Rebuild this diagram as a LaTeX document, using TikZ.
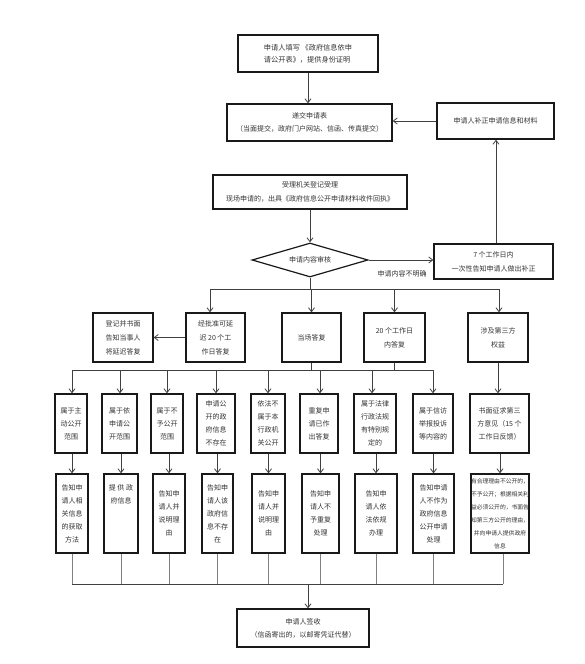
\documentclass[tikz,border=0pt]{standalone}
\usepackage{fontspec}
\setmainfont{Noto Sans CJK SC}
\usetikzlibrary{arrows.meta,shapes.geometric}
\begin{document}
\begin{tikzpicture}[x=1pt,y=-1pt,
  box/.style={draw=black!90, line width=1.2pt, inner sep=1pt, align=center, text=black!80,
    font=\fontsize{7}{13}\selectfont},
  con/.style={draw=black!75, line width=0.8pt},
  thin/.style={draw=black!50, line width=0.7pt},
  arr/.style={con, -{Straight Barb[length=4pt,width=6pt,line width=0.8pt]}}]
\useasboundingbox (0,0) rectangle (584,664);
\fill[white] (0,0) rectangle (584,664);

% top part
\node[box, minimum width=140pt, minimum height=37pt, align=left, font=\fontsize{7.2}{12}\selectfont] (n1) at (308,53.5)
  {申请人填写 《政府信息依申\\请公开表》，提供身份证明};
\node[box, minimum width=165pt, minimum height=37pt] (n2) at (309.5,122.5)
  {递交申请表\\（当面提交，政府门户网站、信函、传真提交）};
\node[box, minimum width=117pt, minimum height=36pt] (nR) at (495.5,121)
  {申请人补正申请信息和材料};
\node[box, minimum width=194pt, minimum height=34pt, font=\fontsize{7}{14}\selectfont] (n3) at (310,192)
  {受理机关登记受理\\现场申请的，出具《政府信息公开申请材料收件回执》};
\node[draw=black!90, line width=1.2pt, diamond, aspect=3.4, minimum width=116pt, minimum height=34pt,
  inner sep=0pt, text=black!80, font=\fontsize{7}{13}\selectfont] (dia) at (310,260) {申请内容审核};
\node[box, minimum width=119pt, minimum height=35pt, font=\fontsize{7}{14}\selectfont] (n7) at (493.5,261.5)
  {7 个工作日内\\一次性告知申请人做出补正};
\node[text=black!80, font=\fontsize{7}{13}\selectfont, inner sep=0pt] (lbl) at (402,274) {申请内容不明确};

% row 2
\node[box, minimum width=60pt, minimum height=49pt, font=\fontsize{7}{14}\selectfont] (dj) at (123,337.5)
  {登记并书面\\告知当事人\\将延迟答复};
\node[box, minimum width=59pt, minimum height=49pt, font=\fontsize{7}{14}\selectfont] (pz) at (215.5,337.5)
  {经批准可延\\迟 20 个工\\作日答复};
\node[box, minimum width=59pt, minimum height=49pt] (dc) at (311.5,337.5) {当场答复};
\node[box, minimum width=61pt, minimum height=49pt, font=\fontsize{7}{14}\selectfont] (tw) at (394.5,337.5)
  {20 个工作日\\内答复};
\node[box, minimum width=60pt, minimum height=49pt, font=\fontsize{7}{14}\selectfont] (sj) at (498,337.5)
  {涉及第三方\\权益};

% row 3
\node[box, minimum width=32pt, minimum height=59pt] (a1) at (71,423.5) {属于主\\动公开\\范围};
\node[box, minimum width=35pt, minimum height=59pt] (a2) at (119.5,423.5) {属于依\\申请公\\开范围};
\node[box, minimum width=32pt, minimum height=59pt] (a3) at (167,423.5) {属于不\\予公开\\范围};
\node[box, minimum width=38pt, minimum height=59pt] (a4) at (216,423.5) {申请公\\开的政\\府信息\\不存在};
\node[box, minimum width=34pt, minimum height=59pt] (a5) at (268,423.5) {依法不\\属于本\\行政机\\关公开};
\node[box, minimum width=38pt, minimum height=59pt] (a6) at (319,423.5) {重复申\\请已作\\出答复};
\node[box, minimum width=42pt, minimum height=59pt] (a7) at (375,423.5) {属于法律\\行政法规\\有特别规\\定的};
\node[box, minimum width=40pt, minimum height=59pt] (a8) at (433,423.5) {属于信访\\举报投诉\\等内容的};
\node[box, minimum width=59pt, minimum height=59pt] (a9) at (499.5,423.5) {书面征求第三\\方意见（15 个\\工作日反馈）};

% row 4
\node[box, minimum width=32pt, minimum height=79pt] (b1) at (72,513.5) {告知申\\请人相\\关信息\\的获取\\方法};
\node[box, minimum width=34pt, minimum height=79pt] (b2) at (121,513.5) {提 供 政\\府信息\\[26pt]};
\node[box, minimum width=32pt, minimum height=79pt] (b3) at (169,513.5) {告知申\\请人并\\说明理\\由};
\node[box, minimum width=31pt, minimum height=79pt] (b4) at (217.5,513.5) {告知申\\请人该\\政府信\\息不存\\在};
\node[box, minimum width=33pt, minimum height=79pt] (b5) at (268.5,513.5) {告知申\\请人并\\说明理\\由};
\node[box, minimum width=37pt, minimum height=79pt] (b6) at (320.5,513.5) {告知申\\请人不\\予重复\\处理};
\node[box, minimum width=42pt, minimum height=79pt] (b7) at (376,513.5) {告知申\\请人依\\法依规\\办理};
\node[box, minimum width=41pt, minimum height=79pt] (b8) at (433.5,513.5) {告知申请\\人不作为\\政府信息\\公开申请\\处理};
\node[box, minimum width=58pt, minimum height=79pt, inner sep=0pt, font=\fontsize{5.8}{13}\selectfont] (b9) at (500,513.5)
  {有合理理由不公开的，\\不予公开；根据相关利\\益必须公开的，书面告\\知第三方公开的理由，\\并向申请人提供政府\\信息};

% final
\node[box, minimum width=132pt, minimum height=38pt] (fin) at (303,628)
  {申请人签收\\（信函寄出的，以邮寄凭证代替）};

% connectors top
\draw[arr] (n1.south) -- (n1.south |- n2.north);
\draw[arr] (nR.west) -- (n2.east |- nR.west);
\draw[arr] (n7.north -| 496,0) -- (nR.south -| 496,0);
\draw[arr] (n3.south) -- (n3.south |- dia.north);
\draw[arr] (dia.east) -- (dia.east -| n7.west);

% bus 1
\coordinate (c1L) at (210,289);
\coordinate (c1R) at (499,289);
\draw[con] (dia.south) -- (dia.south |- c1L);
\draw[con] (c1L) -- (c1R);
\draw[arr] (c1L) -- (c1L |- pz.north);
\draw[arr] (dc.north |- c1L) -- (dc.north);
\draw[arr] (tw.north |- c1L) -- (tw.north);
\draw[arr] (c1R) -- (c1R |- sj.north);
\draw[arr] (pz.west) -- (dj.east |- pz.west);

% bus 2
\coordinate (c2L) at (72,370);
\coordinate (c2R) at (433,370);
\draw[con] (dc.south) -- (dc.south |- c2L);
\draw[con] (tw.south) -- (tw.south |- c2L);
\draw[con] (c2L) -- (c2R);
\foreach \a/\x in {a1/72,a2/120,a3/167,a4/216,a5/268,a6/320,a7/372,a8/433}
  \draw[arr] (\x,370) -- (\x,0 |- \a.north);
\draw[arr] (sj.south) -- (sj.south |- a9.north);

% row 3 -> row 4
\foreach \a/\b in {a1/b1,a2/b2,a3/b3,a4/b4,a5/b5,a6/b6,a7/b7,a8/b8,a9/b9}
  \draw[arr] (\b.north |- \a.south) -- (\b.north);

% bus 3
\coordinate (c3L) at (72,584);
\coordinate (c3R) at (503,584);
\coordinate (c3M) at (308,584);
\foreach \b in {b1,b2,b3,b4,b5,b6,b7,b8}
  \draw[thin] (\b.south) -- (\b.south |- c3L);
\draw[thin] (b9.south -| c3R) -- (c3R);
\draw[con] (c3L) -- (c3R);
\draw[arr] (c3M) -- (c3M |- fin.north);
\end{tikzpicture}
\end{document}
